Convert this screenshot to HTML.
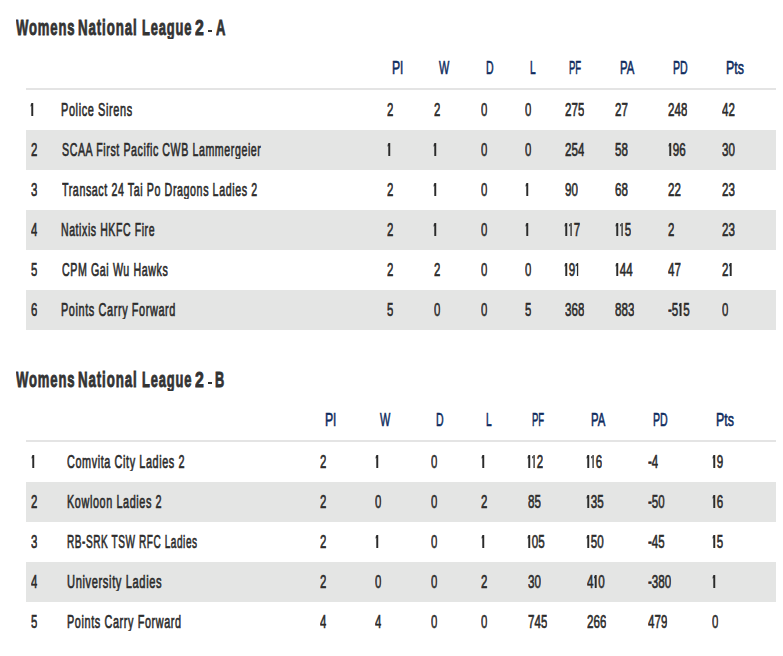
<!DOCTYPE html><html><head><meta charset="utf-8"><style>
html,body{margin:0;padding:0;background:#fff;}
body{width:783px;height:656px;position:relative;overflow:hidden;font-family:"Liberation Sans",sans-serif;}
.r{position:absolute;}
.t{position:absolute;white-space:nowrap;transform-origin:0 0;}
.body{height:17.9px;overflow:hidden;-webkit-text-stroke:0.65px #2b2b2b;font-size:18px;line-height:18px;color:#2b2b2b;font-weight:normal;transform:scaleX(0.645);}
.head{-webkit-text-stroke:0.6px #0e2b5e;font-size:18px;line-height:18px;color:#0e2b5e;font-weight:normal;transform:scaleX(0.65);}
.one{display:inline-block;position:relative;width:7.5px;color:transparent;-webkit-text-stroke:0 transparent;}
.one:after{content:'';position:absolute;left:2.4px;top:2.2px;width:2.4px;height:12.8px;background:#2b2b2b;}
.one:before{content:'';position:absolute;left:0.7px;top:2.7px;width:2.2px;height:2.0px;background:#2b2b2b;transform:skewY(-35deg);}
.title{height:22.3px;overflow:hidden;letter-spacing:1.5px;word-spacing:-4.2px;-webkit-text-stroke:0.9px #333333;font-size:22.5px;line-height:22.5px;color:#333333;font-weight:bold;transform:scaleX(0.57);}
</style></head><body>

<div class="r" style="left:208px;top:29.9px;width:3.8px;height:1.7px;background:#333333"></div>
<div class="r" style="left:26px;top:88px;width:750px;height:2px;background:#e4e4e4"></div>
<div class="r" style="left:26px;top:130px;width:750px;height:40px;background:#e4e5e4"></div>
<div class="r" style="left:26px;top:210px;width:750px;height:40px;background:#e4e5e4"></div>
<div class="r" style="left:26px;top:290px;width:750px;height:40px;background:#e4e5e4"></div>
<div class="r" style="left:208px;top:381.9px;width:3.8px;height:1.7px;background:#333333"></div>
<div class="r" style="left:26px;top:440px;width:750px;height:2px;background:#e4e4e4"></div>
<div class="r" style="left:26px;top:482px;width:750px;height:40px;background:#e4e5e4"></div>
<div class="r" style="left:26px;top:562px;width:750px;height:40px;background:#e4e5e4"></div>
<div class="t title" style="left:16.00px;top:17.00px;transform:scaleX(0.5811)">Womens</div>
<div class="t title" style="left:78.41px;top:17.00px;transform:scaleX(0.5918)">National</div>
<div class="t title" style="left:141.73px;top:17.00px;transform:scaleX(0.5735)">League</div>
<div class="t title" style="left:195.30px;top:17.00px;transform:scaleX(0.7040)">2</div>
<div class="t title" style="left:215.60px;top:17.00px;transform:scaleX(0.5758)">A</div>
<div class="t head" style="left:391.62px;top:59.00px;transform:scaleX(0.6780)">Pl</div>
<div class="t head" style="left:438.90px;top:59.00px;transform:scaleX(0.6069)">W</div>
<div class="t head" style="left:486.11px;top:59.00px;transform:scaleX(0.5854)">D</div>
<div class="t head" style="left:529.53px;top:59.00px;transform:scaleX(0.5699)">L</div>
<div class="t head" style="left:569.27px;top:59.00px;transform:scaleX(0.5290)">PF</div>
<div class="t head" style="left:619.67px;top:59.00px;transform:scaleX(0.6281)">PA</div>
<div class="t head" style="left:672.51px;top:59.00px;transform:scaleX(0.5883)">PD</div>
<div class="t head" style="left:726.31px;top:59.00px;transform:scaleX(0.6876)">Pts</div>
<div class="t body" style="left:30.45px;top:101.00px"><span class="one">1</span></div>
<div class="t body" style="left:61.19px;top:101.00px;letter-spacing:1.0px;transform:scaleX(0.6075)">Police Sirens</div>
<div class="t body" style="left:387.00px;top:101.00px">2</div>
<div class="t body" style="left:433.60px;top:101.00px">2</div>
<div class="t body" style="left:481.40px;top:101.00px">0</div>
<div class="t body" style="left:524.80px;top:101.00px">0</div>
<div class="t body" style="left:564.50px;top:101.00px">275</div>
<div class="t body" style="left:615.00px;top:101.00px">27</div>
<div class="t body" style="left:667.80px;top:101.00px">248</div>
<div class="t body" style="left:721.70px;top:101.00px">42</div>
<div class="t body" style="left:30.70px;top:141.00px">2</div>
<div class="t body" style="left:61.80px;top:141.00px;letter-spacing:1.0px;transform:scaleX(0.5901)">SCAA First Pacific CWB Lammergeier</div>
<div class="t body" style="left:386.75px;top:141.00px"><span class="one">1</span></div>
<div class="t body" style="left:433.35px;top:141.00px"><span class="one">1</span></div>
<div class="t body" style="left:481.40px;top:141.00px">0</div>
<div class="t body" style="left:524.80px;top:141.00px">0</div>
<div class="t body" style="left:564.50px;top:141.00px">254</div>
<div class="t body" style="left:615.00px;top:141.00px">58</div>
<div class="t body" style="left:667.55px;top:141.00px"><span class="one">1</span>96</div>
<div class="t body" style="left:721.70px;top:141.00px">30</div>
<div class="t body" style="left:30.70px;top:181.00px">3</div>
<div class="t body" style="left:61.80px;top:181.00px;letter-spacing:1.0px;transform:scaleX(0.5927)">Transact 24 Tai Po Dragons Ladies 2</div>
<div class="t body" style="left:387.00px;top:181.00px">2</div>
<div class="t body" style="left:433.35px;top:181.00px"><span class="one">1</span></div>
<div class="t body" style="left:481.40px;top:181.00px">0</div>
<div class="t body" style="left:524.55px;top:181.00px"><span class="one">1</span></div>
<div class="t body" style="left:564.50px;top:181.00px">90</div>
<div class="t body" style="left:615.00px;top:181.00px">68</div>
<div class="t body" style="left:667.80px;top:181.00px">22</div>
<div class="t body" style="left:721.70px;top:181.00px">23</div>
<div class="t body" style="left:30.70px;top:221.00px">4</div>
<div class="t body" style="left:61.22px;top:221.00px;letter-spacing:1.0px;transform:scaleX(0.5843)">Natixis HKFC Fire</div>
<div class="t body" style="left:387.00px;top:221.00px">2</div>
<div class="t body" style="left:433.35px;top:221.00px"><span class="one">1</span></div>
<div class="t body" style="left:481.40px;top:221.00px">0</div>
<div class="t body" style="left:524.55px;top:221.00px"><span class="one">1</span></div>
<div class="t body" style="left:564.25px;top:221.00px"><span class="one">1</span><span class="one">1</span>7</div>
<div class="t body" style="left:614.75px;top:221.00px"><span class="one">1</span><span class="one">1</span>5</div>
<div class="t body" style="left:667.80px;top:221.00px">2</div>
<div class="t body" style="left:721.70px;top:221.00px">23</div>
<div class="t body" style="left:30.70px;top:261.00px">5</div>
<div class="t body" style="left:61.80px;top:261.00px;letter-spacing:1.0px;transform:scaleX(0.5915)">CPM Gai Wu Hawks</div>
<div class="t body" style="left:387.00px;top:261.00px">2</div>
<div class="t body" style="left:433.60px;top:261.00px">2</div>
<div class="t body" style="left:481.40px;top:261.00px">0</div>
<div class="t body" style="left:524.80px;top:261.00px">0</div>
<div class="t body" style="left:564.25px;top:261.00px"><span class="one">1</span>9<span class="one">1</span></div>
<div class="t body" style="left:614.75px;top:261.00px"><span class="one">1</span>44</div>
<div class="t body" style="left:667.80px;top:261.00px">47</div>
<div class="t body" style="left:721.70px;top:261.00px">2<span class="one">1</span></div>
<div class="t body" style="left:30.70px;top:301.00px">6</div>
<div class="t body" style="left:61.19px;top:301.00px;letter-spacing:1.0px;transform:scaleX(0.6052)">Points Carry Forward</div>
<div class="t body" style="left:387.00px;top:301.00px">5</div>
<div class="t body" style="left:433.60px;top:301.00px">0</div>
<div class="t body" style="left:481.40px;top:301.00px">0</div>
<div class="t body" style="left:524.80px;top:301.00px">5</div>
<div class="t body" style="left:564.50px;top:301.00px">368</div>
<div class="t body" style="left:615.00px;top:301.00px">883</div>
<div class="t body" style="left:667.80px;top:301.00px">-5<span class="one">1</span>5</div>
<div class="t body" style="left:721.70px;top:301.00px">0</div>
<div class="t title" style="left:16.00px;top:369.00px;transform:scaleX(0.5811)">Womens</div>
<div class="t title" style="left:78.41px;top:369.00px;transform:scaleX(0.5918)">National</div>
<div class="t title" style="left:141.73px;top:369.00px;transform:scaleX(0.5735)">League</div>
<div class="t title" style="left:195.30px;top:369.00px;transform:scaleX(0.7040)">2</div>
<div class="t title" style="left:215.43px;top:369.00px;transform:scaleX(0.5677)">B</div>
<div class="t head" style="left:324.82px;top:411.00px;transform:scaleX(0.6780)">Pl</div>
<div class="t head" style="left:380.40px;top:411.00px;transform:scaleX(0.6069)">W</div>
<div class="t head" style="left:435.51px;top:411.00px;transform:scaleX(0.5854)">D</div>
<div class="t head" style="left:485.83px;top:411.00px;transform:scaleX(0.5699)">L</div>
<div class="t head" style="left:532.37px;top:411.00px;transform:scaleX(0.5290)">PF</div>
<div class="t head" style="left:591.27px;top:411.00px;transform:scaleX(0.6281)">PA</div>
<div class="t head" style="left:653.01px;top:411.00px;transform:scaleX(0.5883)">PD</div>
<div class="t head" style="left:716.41px;top:411.00px;transform:scaleX(0.6876)">Pts</div>
<div class="t body" style="left:30.55px;top:453.00px"><span class="one">1</span></div>
<div class="t body" style="left:67.30px;top:453.00px;letter-spacing:1.0px;transform:scaleX(0.6024)">Comvita City Ladies 2</div>
<div class="t body" style="left:320.20px;top:453.00px">2</div>
<div class="t body" style="left:374.85px;top:453.00px"><span class="one">1</span></div>
<div class="t body" style="left:430.80px;top:453.00px">0</div>
<div class="t body" style="left:480.85px;top:453.00px"><span class="one">1</span></div>
<div class="t body" style="left:527.35px;top:453.00px"><span class="one">1</span><span class="one">1</span>2</div>
<div class="t body" style="left:586.35px;top:453.00px"><span class="one">1</span><span class="one">1</span>6</div>
<div class="t body" style="left:648.30px;top:453.00px">-4</div>
<div class="t body" style="left:711.55px;top:453.00px"><span class="one">1</span>9</div>
<div class="t body" style="left:30.80px;top:493.00px">2</div>
<div class="t body" style="left:66.70px;top:493.00px;letter-spacing:1.0px;transform:scaleX(0.6022)">Kowloon Ladies 2</div>
<div class="t body" style="left:320.20px;top:493.00px">2</div>
<div class="t body" style="left:375.10px;top:493.00px">0</div>
<div class="t body" style="left:430.80px;top:493.00px">0</div>
<div class="t body" style="left:481.10px;top:493.00px">2</div>
<div class="t body" style="left:527.60px;top:493.00px">85</div>
<div class="t body" style="left:586.35px;top:493.00px"><span class="one">1</span>35</div>
<div class="t body" style="left:648.30px;top:493.00px">-50</div>
<div class="t body" style="left:711.55px;top:493.00px"><span class="one">1</span>6</div>
<div class="t body" style="left:30.80px;top:533.00px">3</div>
<div class="t body" style="left:66.74px;top:533.00px;letter-spacing:1.0px;transform:scaleX(0.5590)">RB-SRK TSW RFC Ladies</div>
<div class="t body" style="left:320.20px;top:533.00px">2</div>
<div class="t body" style="left:374.85px;top:533.00px"><span class="one">1</span></div>
<div class="t body" style="left:430.80px;top:533.00px">0</div>
<div class="t body" style="left:480.85px;top:533.00px"><span class="one">1</span></div>
<div class="t body" style="left:527.35px;top:533.00px"><span class="one">1</span>05</div>
<div class="t body" style="left:586.35px;top:533.00px"><span class="one">1</span>50</div>
<div class="t body" style="left:648.30px;top:533.00px">-45</div>
<div class="t body" style="left:711.55px;top:533.00px"><span class="one">1</span>5</div>
<div class="t body" style="left:30.80px;top:573.00px">4</div>
<div class="t body" style="left:66.68px;top:573.00px;letter-spacing:1.0px;transform:scaleX(0.6182)">University Ladies</div>
<div class="t body" style="left:320.20px;top:573.00px">2</div>
<div class="t body" style="left:375.10px;top:573.00px">0</div>
<div class="t body" style="left:430.80px;top:573.00px">0</div>
<div class="t body" style="left:481.10px;top:573.00px">2</div>
<div class="t body" style="left:527.60px;top:573.00px">30</div>
<div class="t body" style="left:586.60px;top:573.00px">4<span class="one">1</span>0</div>
<div class="t body" style="left:648.30px;top:573.00px">-380</div>
<div class="t body" style="left:711.55px;top:573.00px"><span class="one">1</span></div>
<div class="t body" style="left:30.80px;top:613.00px">5</div>
<div class="t body" style="left:66.70px;top:613.00px;letter-spacing:1.0px;transform:scaleX(0.6036)">Points Carry Forward</div>
<div class="t body" style="left:320.20px;top:613.00px">4</div>
<div class="t body" style="left:375.10px;top:613.00px">4</div>
<div class="t body" style="left:430.80px;top:613.00px">0</div>
<div class="t body" style="left:481.10px;top:613.00px">0</div>
<div class="t body" style="left:527.60px;top:613.00px">745</div>
<div class="t body" style="left:586.60px;top:613.00px">266</div>
<div class="t body" style="left:648.30px;top:613.00px">479</div>
<div class="t body" style="left:711.80px;top:613.00px">0</div>
</body></html>
